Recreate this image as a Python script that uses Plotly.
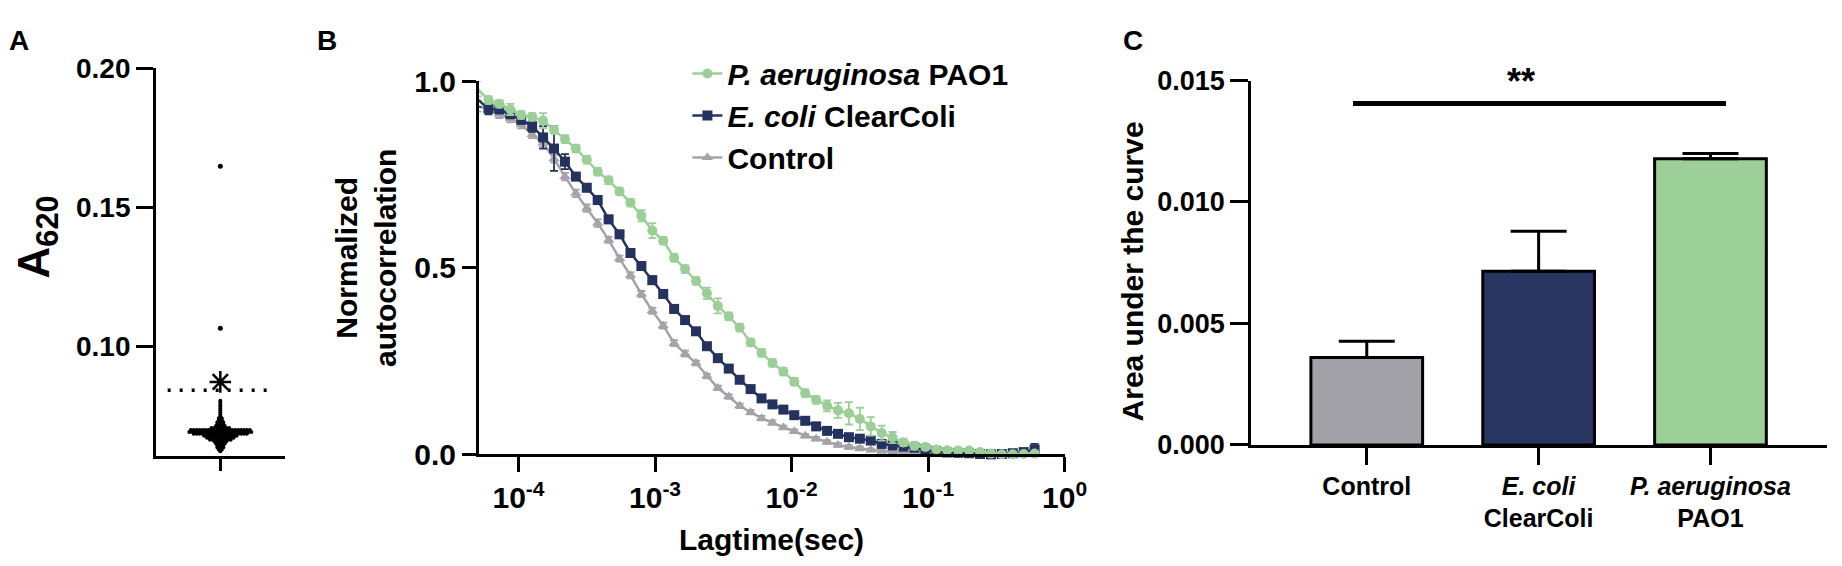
import plotly.graph_objects as go

W, H = 1842, 566

# ----------------------------
# Panel A - A620 screening
# ----------------------------
a620_levels = [0.0803, 0.0796, 0.0789, 0.0782, 0.0775, 0.0768, 0.0761, 0.0754, 0.0747,
               0.0740, 0.0733, 0.0726, 0.0719, 0.0712, 0.0705, 0.0698, 0.0691, 0.0684,
               0.0677, 0.0670, 0.0663, 0.0656, 0.0649, 0.0642, 0.0635, 0.0628, 0.0621]
a620_counts = [1, 1, 1, 1, 1, 1, 1, 1, 1,
               2, 2, 3, 3, 4, 7, 21, 22, 19,
               12, 10, 8, 5, 4, 3, 3, 2, 1]
a620_outliers = [0.1064, 0.1647]
a620_flagged = [0.0871]
a620_threshold = 0.0841

# ----------------------------
# Panel B - autocorrelation
# ----------------------------
lagtime = [5.01e-5, 6.03e-5, 7.24e-5, 8.71e-5, 1.047e-4, 1.259e-4, 1.514e-4, 1.820e-4,
           2.188e-4, 2.630e-4, 3.162e-4, 3.802e-4, 4.571e-4, 5.495e-4, 6.607e-4, 7.943e-4,
           9.550e-4, 1.148e-3, 1.380e-3, 1.660e-3, 1.995e-3, 2.399e-3, 2.884e-3, 3.467e-3,
           4.169e-3, 5.012e-3, 6.026e-3, 7.244e-3, 8.710e-3, 1.047e-2, 1.259e-2, 1.514e-2,
           1.820e-2, 2.188e-2, 2.630e-2, 3.162e-2, 3.802e-2, 4.571e-2, 5.495e-2, 6.607e-2,
           7.943e-2, 9.550e-2, 0.1148, 0.1380, 0.1660, 0.1995, 0.2399, 0.2884,
           0.3467, 0.4169, 0.5012, 0.6026]

g_pao1 = [0.98, 0.95, 0.94, 0.925, 0.91, 0.905, 0.895, 0.87, 0.845, 0.82,
          0.79, 0.758, 0.735, 0.705, 0.675, 0.64, 0.60, 0.573, 0.527, 0.497,
          0.465, 0.432, 0.398, 0.37, 0.34, 0.30, 0.272, 0.245, 0.222, 0.195,
          0.164, 0.146, 0.13, 0.118, 0.11, 0.095, 0.075, 0.057, 0.045, 0.032,
          0.023, 0.02, 0.013, 0.011, 0.01, 0.01, 0.006, 0.002, 0.0, 0.0,
          0.001, 0.002]
g_clearcoli = [0.952, 0.927, 0.925, 0.912, 0.897, 0.88, 0.85, 0.82, 0.785, 0.745,
               0.715, 0.682, 0.63, 0.59, 0.54, 0.505, 0.467, 0.43, 0.39, 0.36,
               0.33, 0.29, 0.258, 0.23, 0.2, 0.175, 0.15, 0.134, 0.12, 0.105,
               0.09, 0.075, 0.063, 0.055, 0.046, 0.042, 0.037, 0.028, 0.024, 0.021,
               0.018, 0.014, 0.009, 0.005, 0.004, 0.003, 0.001, 0.0, 0.001, 0.003,
               0.006, 0.013]
g_control = [0.934, 0.925, 0.912, 0.90, 0.884, 0.858, 0.835, 0.793, 0.745, 0.70,
             0.66, 0.62, 0.575, 0.525, 0.48, 0.43, 0.385, 0.345, 0.298, 0.27,
             0.245, 0.21, 0.178, 0.155, 0.13, 0.113, 0.097, 0.085, 0.072, 0.062,
             0.05, 0.042, 0.033, 0.025, 0.02, 0.016, 0.012, 0.009, 0.007, 0.005,
             0.004, 0.003, 0.002, 0.001, 0.001, 0.0, 0.0, 0.0, 0.0, 0.0,
             0.0, 0.0]

err_pao1 = [0.02, 0.01, 0.01, 0.015, 0.01, 0.01, 0.02, 0.01, 0.01, 0.01,
            0.01, 0.01, 0.01, 0.01, 0.01, 0.015, 0.02, 0.01, 0.01, 0.01,
            0.01, 0.015, 0.02, 0.01, 0.01, 0.01, 0.01, 0.01, 0.01, 0.01,
            0.01, 0.01, 0.015, 0.02, 0.03, 0.03, 0.025, 0.02, 0.015, 0.01,
            0.01, 0.008, 0.006, 0.005, 0.005, 0.005, 0.005, 0.005, 0.005, 0.005,
            0.005, 0.005]
err_clearcoli = [0.02, 0.015, 0.01, 0.01, 0.01, 0.015, 0.03, 0.06, 0.02, 0.01,
                 0.01, 0.01, 0.01, 0.01, 0.01, 0.01, 0.01, 0.01, 0.01, 0.01,
                 0.008, 0.008, 0.008, 0.008, 0.008, 0.008, 0.008, 0.008, 0.008, 0.008,
                 0.008, 0.008, 0.008, 0.008, 0.008, 0.008, 0.008, 0.008, 0.006, 0.006,
                 0.006, 0.006, 0.005, 0.005, 0.005, 0.005, 0.005, 0.005, 0.005, 0.005,
                 0.008, 0.015]
err_control = [0.015, 0.01, 0.01, 0.01, 0.01, 0.01, 0.01, 0.01, 0.01, 0.01,
               0.01, 0.01, 0.008, 0.008, 0.008, 0.008, 0.008, 0.008, 0.008, 0.008,
               0.006, 0.006, 0.006, 0.006, 0.006, 0.006, 0.006, 0.006, 0.005, 0.005,
               0.005, 0.005, 0.005, 0.005, 0.005, 0.005, 0.004, 0.004, 0.004, 0.004,
               0.004, 0.004, 0.004, 0.004, 0.004, 0.004, 0.004, 0.004, 0.004, 0.004,
               0.004, 0.004]

lag_ticks = [1e-4, 1e-3, 1e-2, 1e-1, 1]
lag_ticktext = ["10<sup>-4</sup>", "10<sup>-3</sup>", "10<sup>-2</sup>",
                "10<sup>-1</sup>", "10<sup>0</sup>"]

# ----------------------------
# Panel C - area under the curve
# ----------------------------
auc_labels = ["Control", "<i>E. coli</i><br>ClearColi", "<i>P. aeruginosa</i><br>PAO1"]
auc_mean = [0.0036, 0.00715, 0.01178]
auc_sd = [0.00067, 0.00165, 0.00022]
sig_pair = (0, 2)
sig_y = 0.01405
sig_text = "**"

GREEN = "#9BCF97"
NAVY = "#25325E"
GREY = "#A4A3A9"
BAR_COLORS = ["#A2A1A7", "#283560", "#9DCF98"]


def px_x(v):
    return v / W


def px_y(v):
    return 1 - v / H


fig = go.Figure()

# ---- A: beeswarm of the screening values
step = 0.046
xs, ys = [], []
for v, n in zip(a620_levels, a620_counts):
    for i in range(n):
        xs.append((i - (n - 1) / 2) * step)
        ys.append(v)

fig.add_trace(go.Scatter(
    x=xs, y=ys, mode="markers", xaxis="x", yaxis="y",
    marker=dict(size=4, color="black"), showlegend=False, cliponaxis=False))
fig.add_trace(go.Scatter(
    x=[0] * len(a620_outliers), y=a620_outliers, mode="markers", xaxis="x", yaxis="y",
    marker=dict(size=5, color="black"), showlegend=False))
fig.add_trace(go.Scatter(
    x=[0] * len(a620_flagged), y=a620_flagged, mode="markers", xaxis="x", yaxis="y",
    marker=dict(size=18, symbol="asterisk-open", color="black", line=dict(width=2.5, color="black")),
    showlegend=False))
fig.add_trace(go.Scatter(
    x=[-0.82, 0.82], y=[a620_threshold, a620_threshold], mode="lines",
    xaxis="x", yaxis="y", line=dict(color="black", width=3.5, dash="3px,9px"),
    showlegend=False))

# ---- B: autocorrelation curves (drawn grey -> navy -> green)
series = [
    ("Control", g_control, err_control, GREY, "triangle-up"),
    ("<i>E. coli</i> ClearColi", g_clearcoli, err_clearcoli, NAVY, "square"),
    ("<i>P. aeruginosa</i> PAO1", g_pao1, err_pao1, GREEN, "circle"),
]
for name, g, err, col, sym in series:
    fig.add_trace(go.Scatter(
        x=lagtime, y=g, name=name, mode="lines+markers", xaxis="x2", yaxis="y2",
        line=dict(color=col, width=2.5),
        marker=dict(color=col, size=10, symbol=sym),
        error_y=dict(type="data", array=err, color=col, thickness=1.8, width=4),
        cliponaxis=False))

# ---- C: bars
fig.add_trace(go.Bar(
    x=auc_labels, y=auc_mean, xaxis="x3", yaxis="y3", width=0.65,
    marker=dict(color=BAR_COLORS, line=dict(color="black", width=3)),
    error_y=dict(type="data", array=auc_sd, arrayminus=[0] * len(auc_sd),
                 symmetric=False, color="black", thickness=3, width=28),
    showlegend=False))

axis_common = dict(showline=True, linecolor="black", linewidth=3, ticks="outside",
                   tickcolor="black", tickwidth=3, showgrid=False, zeroline=False,
                   mirror=False)

fig.update_layout(
    width=W, height=H,
    margin=dict(l=0, r=0, t=0, b=0),
    paper_bgcolor="white", plot_bgcolor="white",
    font=dict(family="Liberation Sans, Arial, sans-serif", size=24, color="black",
              weight="bold"),
    xaxis=dict(axis_common, domain=[px_x(150), px_x(280)], range=[-1, 1],
               tickvals=[0], showticklabels=False, ticklen=12, anchor="y"),
    yaxis=dict(axis_common, domain=[px_y(458.5), px_y(47)], range=[0.0605, 0.20],
               tickvals=[0.10, 0.15, 0.20], tickformat=".2f", ticklen=17,
               tickfont=dict(size=28), anchor="x"),
    xaxis2=dict(axis_common, type="log", domain=[px_x(477), px_x(1070)],
                range=[-4.289, 0], tickvals=lag_ticks, ticktext=lag_ticktext,
                ticklen=15, tickfont=dict(size=30), anchor="y2"),
    yaxis2=dict(axis_common, domain=[px_y(457), px_y(61)], range=[0, 1.0],
                tickvals=[0, 0.5, 1.0], tickformat=".1f", ticklen=14,
                tickfont=dict(size=30), anchor="x2"),
    xaxis3=dict(axis_common, domain=[px_x(1259), 1.0], range=[-0.672, 2.678],
                ticklen=17, tickfont=dict(size=25), anchor="y3"),
    yaxis3=dict(axis_common, domain=[px_y(447), px_y(60)], range=[0, 0.015],
                tickvals=[0, 0.005, 0.010, 0.015], tickformat=".3f", ticklen=18,
                tickfont=dict(size=27), anchor="x3"),
    legend=dict(x=px_x(688), y=px_y(25), xanchor="left", yanchor="top",
                traceorder="reversed", font=dict(size=30), bgcolor="rgba(0,0,0,0)"),
    shapes=[dict(type="line", xref="x3", yref="y3",
                 x0=sig_pair[0] - 0.08, x1=sig_pair[1] + 0.09, y0=sig_y, y1=sig_y,
                 line=dict(color="black", width=5))],
)

annotations = [
    dict(text="A", x=px_x(11), y=px_y(17), font=dict(size=28)),
    dict(text="B", x=px_x(323), y=px_y(17), font=dict(size=28)),
    dict(text="C", x=px_x(1139), y=px_y(17), font=dict(size=28)),
    dict(text="A<sub>620</sub>", x=px_x(29), y=px_y(226), textangle=-90, font=dict(size=44)),
    dict(text="Normalized<br>autocorrelation", x=px_x(362), y=px_y(248), textangle=-90,
         font=dict(size=30)),
    dict(text="Lagtime(sec)", x=px_x(773), y=px_y(547), font=dict(size=30)),
    dict(text="Area under the curve", x=px_x(1139), y=px_y(263), textangle=-90,
         font=dict(size=30)),
]
for a in annotations:
    a.update(xref="paper", yref="paper", showarrow=False, xanchor="center", yanchor="middle")
annotations.append(dict(text=sig_text, xref="x3", yref="y3", x=0.9, y=sig_y,
                        yanchor="bottom", yshift=0, showarrow=False, font=dict(size=36)))
fig.update_layout(annotations=annotations)

fig.write_html("out.html")
